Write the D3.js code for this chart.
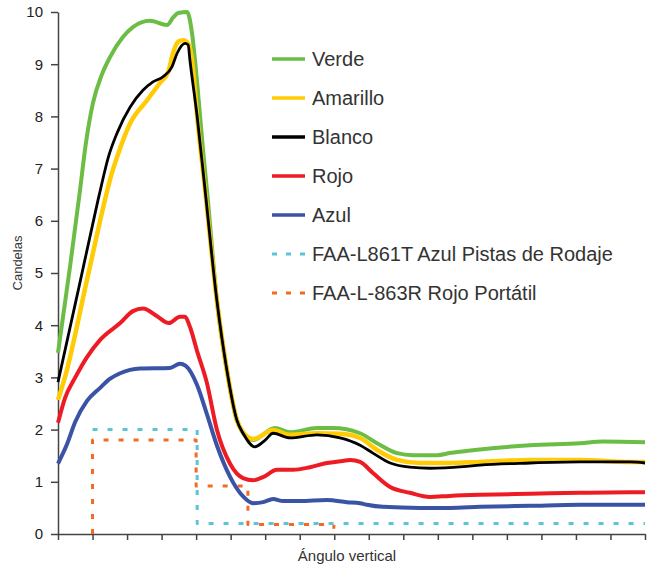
<!DOCTYPE html>
<html>
<head>
<meta charset="utf-8">
<script src="https://cdn.jsdelivr.net/npm/d3@7"></script>
<style>
  body { margin: 0; background: #fff; }
  svg { font-family: "Liberation Sans", Arial, sans-serif; }
  .axis path, .axis line { stroke: #444; stroke-width: 1.5; }
  .axis text { fill: #222; font-size: 15px; }
</style>
</head>
<body>
<svg id="chart" width="660" height="567"></svg>
<script>
// x in angle units (one unit per tick), y in candelas
var xTicks = d3.range(0, 18);
var yTicks = [0, 1, 2, 3, 4, 5, 6, 7, 8, 9, 10];

var verde = [[0,3.47],[0.35,5.13],[0.64,6.6],[0.8,7.45],[1.01,8.25],[1.27,8.8],[1.51,9.14],[1.88,9.52],[2.17,9.71],[2.66,9.83],[3.16,9.75],[3.33,9.89],[3.48,9.98],[3.74,10],[3.88,9.6],[4.03,8.64],[4.2,7.36],[4.34,6.4],[4.6,4.48],[4.89,3.14],[5.18,2.18],[5.36,1.93],[5.65,1.8],[6.28,2.03],[6.72,1.95],[7.5,2.03],[7.96,2.03],[8.75,1.93],[9.24,1.74],[9.82,1.55],[10.28,1.51],[10.98,1.51],[11.35,1.55],[12.22,1.62],[13.67,1.7],[15.12,1.74],[15.78,1.77],[17,1.76]];
var amarillo = [[0,2.57],[0.2,3.0],[0.84,4.87],[1.36,6.4],[1.51,6.8],[1.71,7.22],[2.09,7.87],[2.58,8.31],[2.95,8.64],[3.19,8.85],[3.33,9.21],[3.48,9.43],[3.62,9.46],[3.77,9.4],[3.88,9.1],[4.03,8.0],[4.26,6.59],[4.6,4.48],[4.89,3.14],[5.18,2.18],[5.36,1.95],[5.65,1.82],[6.23,1.99],[6.72,1.9],[7.5,1.93],[8.17,1.92],[8.75,1.84],[9.24,1.61],[9.82,1.42],[10.48,1.36],[11.35,1.36],[12.22,1.38],[13.67,1.42],[15.12,1.42],[16.57,1.38],[17,1.38]];
var blanco = [[0,2.91],[0.64,4.83],[1.16,6.4],[1.3,6.8],[1.45,7.2],[1.71,7.68],[2.09,8.18],[2.46,8.5],[2.75,8.66],[3.04,8.76],[3.3,8.95],[3.45,9.21],[3.68,9.4],[3.77,9.37],[3.82,9.08],[4.03,8.0],[4.26,6.59],[4.6,4.48],[4.89,3.14],[5.18,2.18],[5.36,1.93],[5.7,1.67],[6.0,1.8],[6.23,1.93],[6.72,1.84],[7.5,1.9],[8.17,1.84],[8.75,1.7],[9.12,1.55],[9.62,1.36],[10.19,1.28],[10.77,1.26],[11.73,1.29],[12.22,1.32],[13.67,1.36],[15.12,1.38],[16.57,1.38],[17,1.36]];
var rojo = [[0,2.13],[0.2,2.6],[0.5,3.0],[0.84,3.39],[1.22,3.72],[1.8,4.04],[2.17,4.27],[2.46,4.32],[2.87,4.17],[3.21,4.04],[3.53,4.16],[3.68,4.16],[3.82,3.97],[4.03,3.5],[4.31,2.9],[4.6,2.0],[4.98,1.35],[5.36,1.07],[5.65,1.03],[5.94,1.09],[6.34,1.23],[6.81,1.23],[7.3,1.28],[7.79,1.36],[8.25,1.4],[8.46,1.42],[8.75,1.38],[9.12,1.17],[9.62,0.9],[10.19,0.79],[10.77,0.71],[11.35,0.73],[12.22,0.75],[13.67,0.77],[15.12,0.79],[16.57,0.8],[17,0.8]];
var azul = [[0,1.35],[0.26,1.72],[0.5,2.15],[0.84,2.55],[1.22,2.8],[1.5,2.97],[1.8,3.08],[2.38,3.17],[3.24,3.18],[3.53,3.26],[3.7,3.22],[4.03,2.85],[4.31,2.3],[4.6,1.7],[4.98,1.1],[5.36,0.72],[5.65,0.59],[5.94,0.61],[6.23,0.67],[6.52,0.63],[7.0,0.63],[7.79,0.65],[8.37,0.61],[8.75,0.59],[8.95,0.56],[9.41,0.52],[10.48,0.5],[11.35,0.5],[12.22,0.52],[13.67,0.54],[15.12,0.56],[17,0.56]];
var faaAzul = [[1.0,2.0],[4.03,2.0],[4.03,0.2],[17,0.2]];
var faaRojo = [[1.0,0],[1.0,1.8],[4.0,1.8],[4.0,0.92],[5.5,0.92],[5.5,0.18],[7.99,0.18],[7.99,0.1]];

var series = [
  { name: "Verde", data: verde, color: "#6cbd45", width: 4 },
  { name: "Amarillo", data: amarillo, color: "#ffcb05", width: 4.5 },
  { name: "Blanco", data: blanco, color: "#000000", width: 2.8 },
  { name: "Rojo", data: rojo, color: "#ed1c24", width: 4 },
  { name: "Azul", data: azul, color: "#3a53a4", width: 4 },
  { name: "FAA-L861T Azul Pistas de Rodaje", data: faaAzul, color: "#5bc5d6", width: 3, dash: "5,10", step: true },
  { name: "FAA-L-863R Rojo Portátil", data: faaRojo, color: "#f26a24", width: 3, dash: "5,10", step: true }
];

var margin = { top: 12, right: 15, bottom: 33, left: 58 },
    w = 660 - margin.left - margin.right,
    h = 567 - margin.top - margin.bottom;

var svg = d3.select("#chart");

var x = d3.scaleLinear().domain([0, 17]).range([margin.left, margin.left + w]);
var y = d3.scaleLinear().domain([0, 10]).range([margin.top + h, margin.top]);

// axes
svg.append("g")
  .attr("class", "axis")
  .attr("transform", `translate(0, ${margin.top + h})`)
  .call(d3.axisBottom(x).tickValues(xTicks).tickSize(6).tickSizeOuter(0).tickFormat(""));

svg.append("g")
  .attr("class", "axis")
  .attr("transform", `translate(${margin.left}, 0)`)
  .call(d3.axisLeft(y).tickValues(yTicks).tickSize(7).tickPadding(8).tickSizeOuter(0));

svg.append("text")
  .attr("x", 347)
  .attr("y", 561)
  .attr("text-anchor", "middle")
  .style("font-size", "15px")
  .style("fill", "#333")
  .text("Ángulo vertical");

svg.append("text")
  .attr("transform", "translate(22, 263) rotate(-90)")
  .attr("text-anchor", "middle")
  .style("font-size", "13px")
  .style("fill", "#333")
  .text("Candelas");

var smooth = d3.line().x(d => x(d[0])).y(d => y(d[1])).curve(d3.curveMonotoneX);
var straight = d3.line().x(d => x(d[0])).y(d => y(d[1]));

// draw order: dashed limits, then blue, red, green, yellow, black on top
var order = [6, 5, 4, 3, 0, 1, 2];
order.forEach(function (i) {
  var s = series[i];
  svg.append("path")
    .datum(s.data)
    .attr("fill", "none")
    .attr("stroke", s.color)
    .attr("stroke-width", s.width)
    .attr("stroke-linejoin", "round")
    .attr("stroke-dasharray", s.dash || null)
    .attr("d", s.step ? straight : smooth);
});

// legend
var legend = svg.append("g").attr("transform", "translate(272, 59)");
series.forEach(function (s, i) {
  var g = legend.append("g").attr("transform", `translate(0, ${i * 39})`);
  g.append("line")
    .attr("x1", 0).attr("x2", 33)
    .attr("stroke", s.color)
    .attr("stroke-width", s.dash ? 3 : 3.5)
    .attr("stroke-dasharray", s.dash ? "5,9" : null);
  g.append("text")
    .attr("x", 40)
    .attr("y", 7)
    .style("font-size", "20px")
    .style("fill", "#333")
    .text(s.name);
});
</script>
</body>
</html>
